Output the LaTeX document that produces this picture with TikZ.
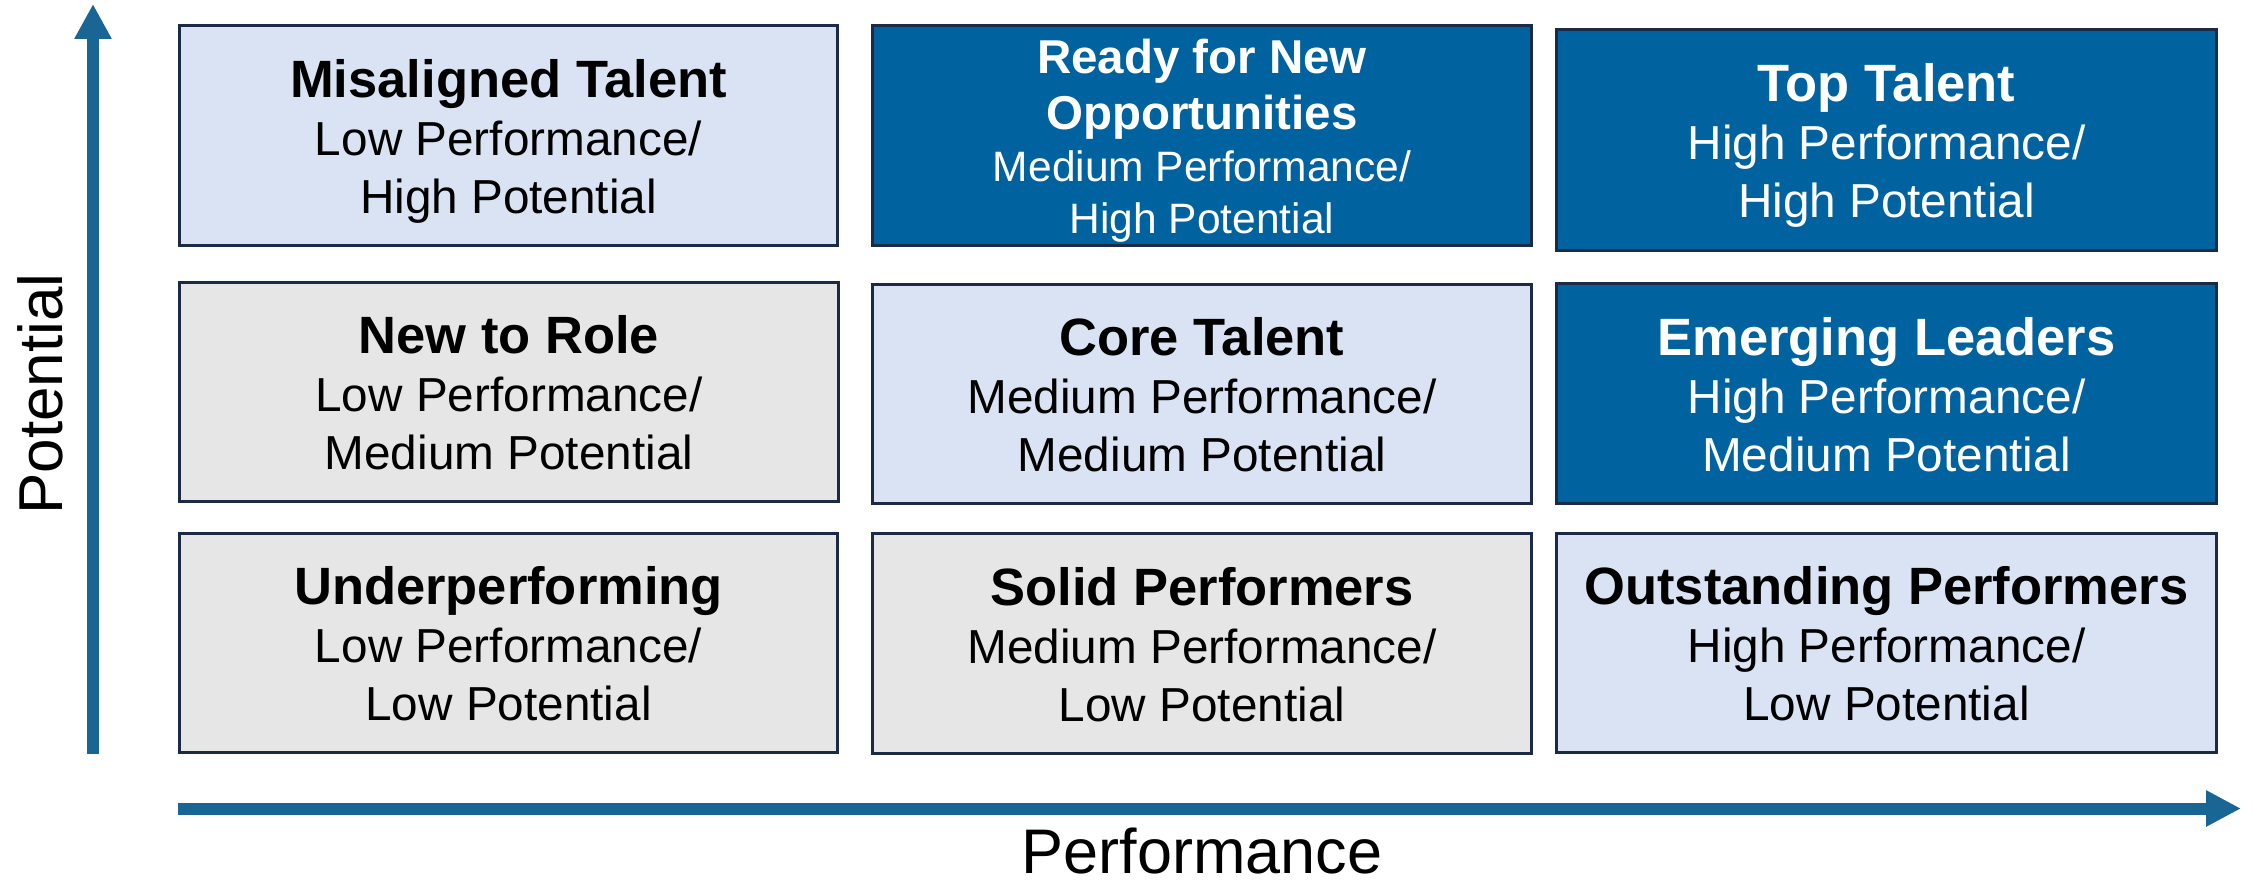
\documentclass[tikz,border=0pt]{standalone}
\usepackage{fontspec}
\setmainfont{Liberation Sans}
\usetikzlibrary{arrows.meta}

\definecolor{cellgray}{HTML}{E6E6E6}
\definecolor{celllight}{HTML}{DAE3F3}
\definecolor{celldark}{HTML}{00639F}
\definecolor{cellline}{HTML}{1B2A47}
\definecolor{axisblue}{HTML}{196594}

% bold heading lines of a cell (size, line skip, text)
\newcommand\cellhead[3]{{\fontsize{#1}{#2}\selectfont\bfseries\rule{0pt}{0.94em}#3\par}}
% regular description lines of a cell (size, line skip, text)
\newcommand\cellsub[3]{{\fontsize{#1}{#2}\selectfont #3\rule[-0.212em]{0pt}{0.212em}\par}}

\tikzset{
  cell/.style={draw=cellline, line width=2.5pt, rectangle, inner sep=0pt,
    text width=640pt, align=flush center},
  graycell/.style={cell, fill=cellgray, text=black},
  lightcell/.style={cell, fill=celllight, text=black},
  darkcell/.style={cell, fill=celldark, text=white},
  axisline/.style={draw=axisblue, line width=12pt},
  axislabel/.style={text=black, inner sep=0pt}
}

\begin{document}
\begin{tikzpicture}[x=1pt, y=-1pt]
\useasboundingbox (0,0) rectangle (2252,880);

% top row: high potential
\node[lightcell, minimum width=658pt, minimum height=220pt] (mt) at (508.5,135.5)
  {\cellhead{52.5}{58}{Misaligned Talent}\cellsub{47.7}{58}{Low Performance/\par High Potential}};
\node[darkcell, minimum width=659pt, minimum height=220pt] (rn) at (1202,135.5)
  {\cellhead{47.5}{56}{Ready for New\par Opportunities}\cellsub{42.5}{52}{Medium Performance/\par High Potential}};
\node[darkcell, minimum width=660pt, minimum height=221pt] (tt) at (1886.5,140)
  {\cellhead{52.5}{58}{Top Talent}\cellsub{47.7}{58}{High Performance/\par High Potential}};

% middle row: medium potential
\node[graycell, minimum width=659pt, minimum height=219pt] (nr) at (509,392)
  {\cellhead{52.5}{58}{New to Role}\cellsub{47.7}{58}{Low Performance/\par Medium Potential}};
\node[lightcell, minimum width=659pt, minimum height=219pt] (ct) at (1202,394)
  {\cellhead{52.5}{58}{Core Talent}\cellsub{47.7}{58}{Medium Performance/\par Medium Potential}};
\node[darkcell, minimum width=660pt, minimum height=220pt] (el) at (1886.5,393.5)
  {\cellhead{52.5}{58}{Emerging Leaders}\cellsub{47.7}{58}{High Performance/\par Medium Potential}};

% bottom row: low potential
\node[graycell, minimum width=658pt, minimum height=219pt] (up) at (508.5,643)
  {\cellhead{52.5}{58}{Underperforming}\cellsub{47.7}{58}{Low Performance/\par Low Potential}};
\node[graycell, minimum width=659pt, minimum height=220pt] (sp) at (1202,643.5)
  {\cellhead{52.5}{58}{Solid Performers}\cellsub{47.7}{58}{Medium Performance/\par Low Potential}};
\node[lightcell, minimum width=660pt, minimum height=219pt] (op) at (1886.5,643)
  {\cellhead{52.5}{58}{Outstanding Performers}\cellsub{47.7}{58}{High Performance/\par Low Potential}};

% axes
\coordinate (ystart) at (93,754);
\coordinate (yend) at (93,4);
\coordinate (xstart) at (178,808.5);
\coordinate (xend) at (2241,808.5);
\draw[axisline, -{Triangle[length=35pt, width=35pt]}] (ystart) -- (yend);
\draw[axisline, -{Triangle[length=35pt, width=34pt]}] (xstart) -- (xend);

\node[axislabel, rotate=90, anchor=base, font=\fontsize{62}{70}\selectfont] (potential) at (62,394) {Potential};
\node[axislabel, anchor=base, font=\fontsize{63}{70}\selectfont] (performance) at (1202,873) {Performance};
\end{tikzpicture}
\end{document}
